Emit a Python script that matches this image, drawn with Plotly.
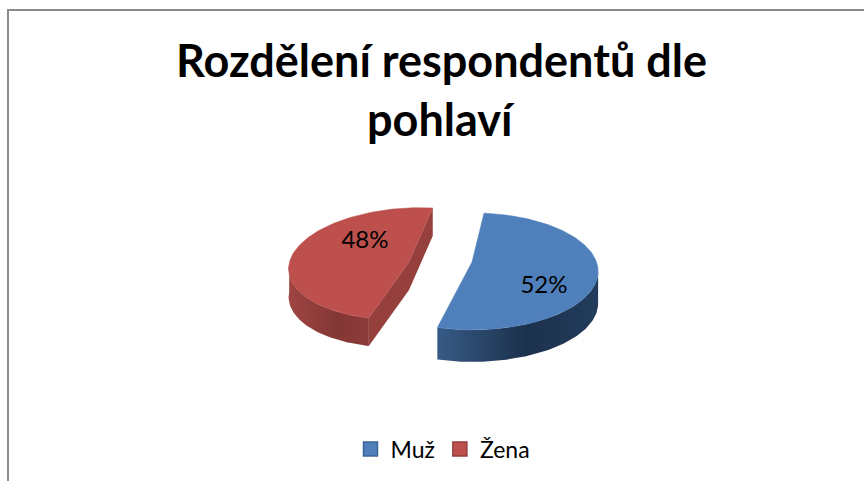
import numpy as np
import plotly.graph_objects as go

categories = ["Muž", "Žena"]
values = [52, 48]
title_lines = ["Rozdělení respondentů dle", "pohlaví"]

W, H = 864, 481
START_DEG = 6.4
FONT = "Lato, Carlito, Calibri, sans-serif"
TOP = ["#4f80bb", "#bd504d"]
EDGE = ["#3c6494", "#943e3b"]
WALL = [
    [[0, "#375b86"], [0.55, "#1c314c"], [1, "#223c5c"]],
    [[0, "#9f4542"], [0.6, "#833735"], [1, "#8d3b39"]],
]
INNER_WALL = "#95403d"
# per-slice projection: centre x, centre y, rx, ry, perspective, shear, depth
PROJ = [
    dict(cx=472, cy=262, rx=124.5, ry=57, k=0.16, shear=0.0, depth=32),
    dict(cx=409, cy=262, rx=119.5, ry=56, k=0.03, shear=-0.2, depth=28),
]
LABEL_POS = [(544, 287), (365, 242)]


def project(theta, p):
    u, v = np.sin(theta), -np.cos(theta)
    s = 1 / (1 - p["k"] * v)
    dy = p["ry"] * v * s
    return p["cx"] + p["rx"] * u * s + p["shear"] * dy, p["cy"] + dy


fractions = np.array(values) / sum(values)
edges = np.radians(START_DEG + 360 * np.concatenate([[0], np.cumsum(fractions)]))

fig = go.Figure()

for i in [1, 0]:
    p = PROJ[i]
    t0, t1 = edges[i], edges[i + 1]
    th = np.linspace(t0, t1, 160)
    ax, ay = project(th, p)
    vis = -np.cos(th) > p["k"] - 0.02
    wx, wy = ax[vis], ay[vis]
    fig.add_trace(go.Scatter(
        x=np.r_[wx, wx[::-1]], y=np.r_[wy, wy[::-1] + p["depth"]],
        mode="lines", fill="toself", line=dict(width=0),
        fillgradient=dict(type="horizontal", colorscale=WALL[i]),
        hoverinfo="skip", showlegend=False))
    if i == 1:
        cx_w = [ax[-1], p["cx"], ax[0], ax[0], p["cx"], ax[-1]]
        cy_w = [ay[-1], p["cy"], ay[0], ay[0] + p["depth"], p["cy"] + p["depth"], ay[-1] + p["depth"]]
        fig.add_trace(go.Scatter(
            x=cx_w, y=cy_w, mode="lines", fill="toself", fillcolor=INNER_WALL,
            line=dict(width=0), hoverinfo="skip", showlegend=False))
    fig.add_trace(go.Scatter(
        x=np.r_[p["cx"], ax, p["cx"]], y=np.r_[p["cy"], ay, p["cy"]],
        mode="lines", fill="toself", fillcolor=TOP[i],
        line=dict(width=0.5, color=TOP[i]), hoverinfo="skip", showlegend=False))

for i, (lx, ly) in enumerate(LABEL_POS):
    fig.add_trace(go.Scatter(
        x=[lx], y=[ly], mode="text", text=[f"{values[i]}%"],
        textfont=dict(family=FONT, size=24, color="#000000"),
        textposition="middle center", hoverinfo="skip", showlegend=False))

for i, name in enumerate(categories):
    fig.add_trace(go.Scatter(
        x=[None], y=[None], mode="markers", name=name,
        marker=dict(symbol="square", size=14, color=TOP[i],
                    line=dict(width=1.5, color=EDGE[i]))))

fig.update_layout(
    width=W, height=H, autosize=False,
    margin=dict(l=0, r=0, t=0, b=0),
    paper_bgcolor="#ffffff", plot_bgcolor="#ffffff",
    xaxis=dict(range=[0, W], visible=False, fixedrange=True),
    yaxis=dict(range=[H, 0], visible=False, fixedrange=True),
    annotations=[
        dict(text=line, x=441, y=yy, xref="x", yref="y", showarrow=False,
             xanchor="center", yanchor="middle",
             font=dict(family=FONT, size=45, color="#000000", weight="bold"))
        for line, yy in zip(title_lines, [60, 119])
    ],
    legend=dict(orientation="h", x=443 / W, y=1 - 449 / H, xanchor="center", yanchor="middle",
                font=dict(family=FONT, size=23, color="#000000"),
                itemsizing="trace", itemwidth=30, tracegroupgap=0, bgcolor="rgba(0,0,0,0)"),
    shapes=[
        dict(type="line", xref="x", yref="y", x0=8, x1=8, y0=10, y1=H + 2,
             line=dict(color="#8c8c8c", width=2)),
        dict(type="line", xref="x", yref="y", x0=7, x1=W + 2, y0=10, y1=10,
             line=dict(color="#8c8c8c", width=2)),
    ],
)

fig.write_html("out.html", config={"displayModeBar": False},
               post_script="document.body.style.margin='0';document.documentElement.style.overflow='hidden';")
